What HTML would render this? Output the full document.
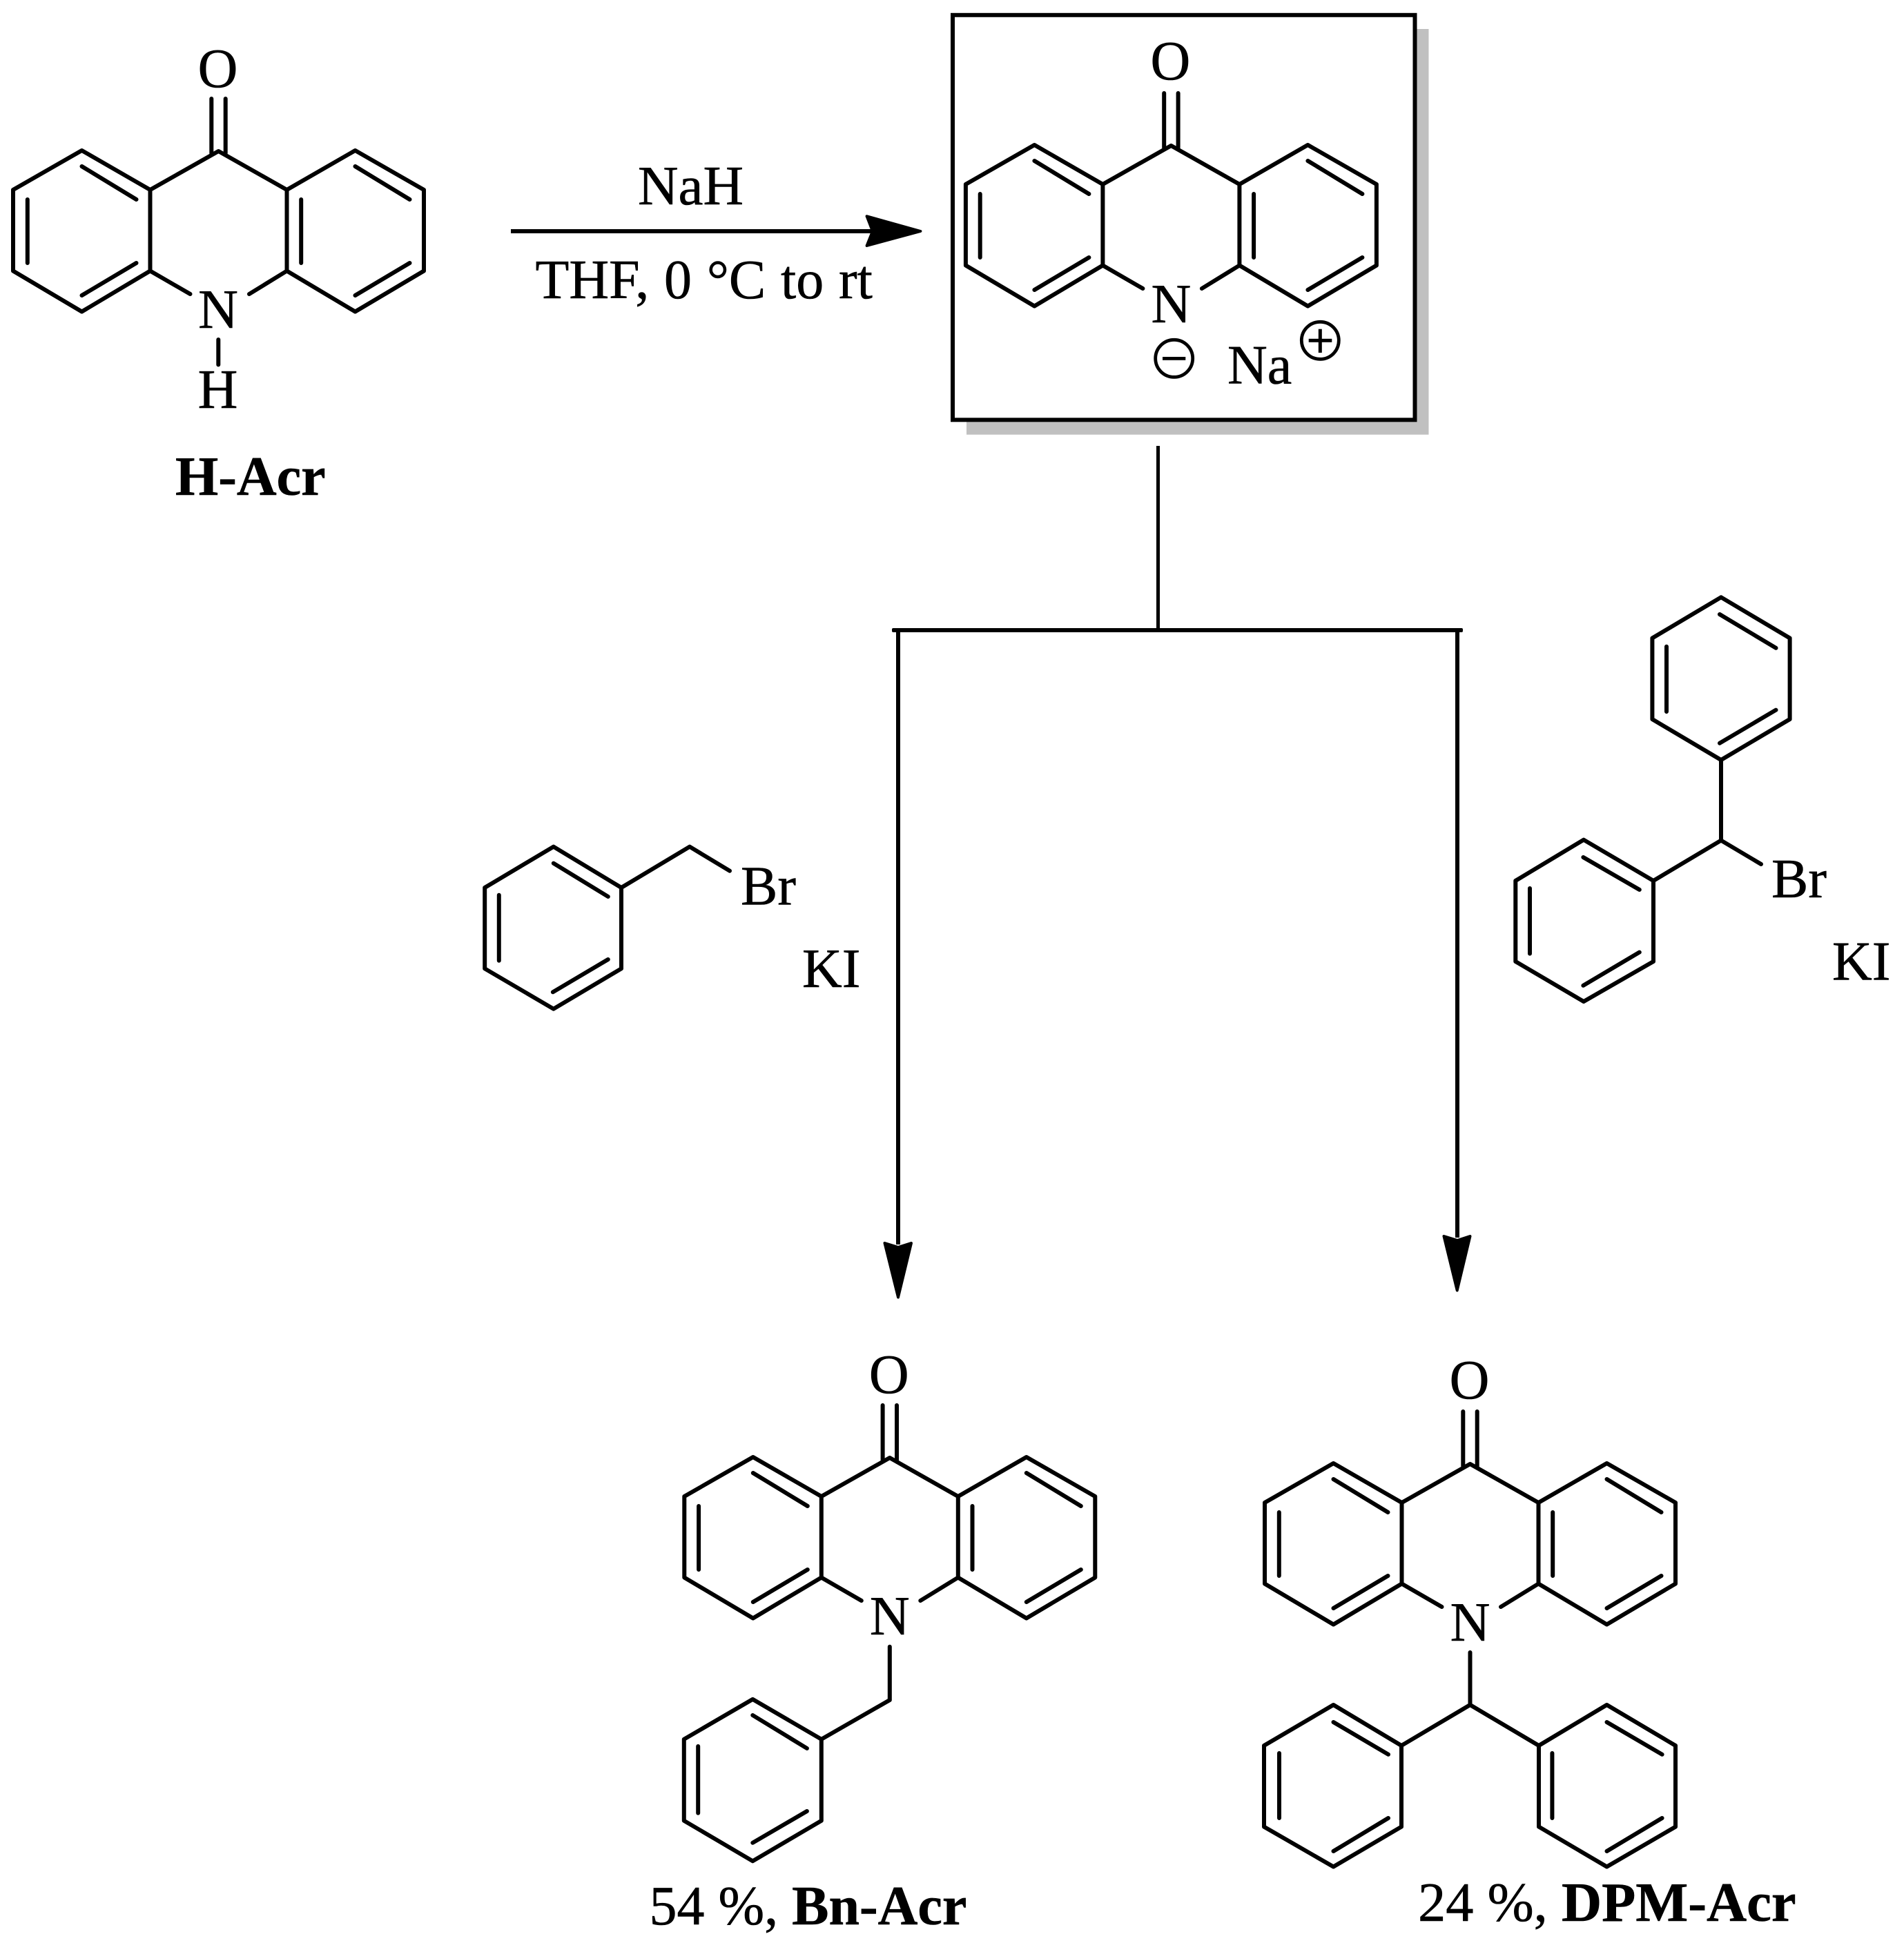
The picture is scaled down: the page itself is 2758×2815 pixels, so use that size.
<!DOCTYPE html>
<html>
<head>
<meta charset="utf-8">
<style>
html,body{margin:0;padding:0;background:#fff;}
svg{display:block;}
text{font-family:"Liberation Serif",serif;font-size:80px;fill:#000;stroke:#000;stroke-width:0.6px;}
.b{font-weight:bold;}
.m{text-anchor:middle;}
.bond{fill:none;stroke:#000;stroke-width:6;stroke-linecap:round;stroke-linejoin:round;}
</style>
</head>
<body>
<svg xmlns="http://www.w3.org/2000/svg" width="2758" height="2815" viewBox="0 0 2758 2815">
<rect width="2758" height="2815" fill="#fff"/>
<defs>
<g id="acr" class="bond">
<path d="M-41,207 L-99,173.5 L-99,56 L-198,-1 L-297.5,56 L-297.5,173.5 L-198,232.5 L-99,173.5 M-99,56 L0,0 L99,56 L198,-1 L297.5,56 L297.5,173.5 L198,232.5 L99,173.5 L99,56 M99,173.5 L44.5,207"/>
<path d="M-198,22 L-119,70 M-276.7,70 L-276.7,162 M-198,209 L-119,162 M198,22 L277,70 M119.7,70 L119.7,162 M198,209 L277,162"/>
<path d="M-10.2,-76 L-10.2,3 M10.2,-76 L10.2,3"/>
</g>
</defs>

<!-- H-Acr -->
<use href="#acr" transform="translate(316.5,219)"/>
<text class="m" x="315.5" y="126">O</text>
<text class="m" x="316" y="475">N</text>
<path class="bond" d="M316.3,492 L316.3,528.4"/>
<text class="m" x="315.5" y="591">H</text>
<text class="b" x="254" y="717">H-Acr</text>

<!-- top arrow -->
<text x="924" y="296" style="font-size:81px">NaH</text>
<text x="775.5" y="432" style="word-spacing:1.8px">THF, 0 °C to rt</text>
<rect x="740" y="332" width="530" height="6" fill="#000"/>
<path d="M1255.6,313.3 L1333.4,335 L1255.6,356 L1264,335 Z" fill="#000" stroke="#000" stroke-width="4" stroke-linejoin="round"/>

<!-- box -->
<rect x="1400" y="42" width="669.5" height="587.7" fill="#c0c0c0"/>
<rect x="1380" y="21.8" width="669.5" height="586.5" fill="#fff" stroke="#000" stroke-width="6"/>
<use href="#acr" transform="translate(1696.4,211)"/>
<text class="m" x="1695.4" y="115">O</text>
<text class="m" x="1696.4" y="467">N</text>
<text x="1778" y="555.5">Na</text>
<circle cx="1700.7" cy="519.3" r="27" fill="none" stroke="#000" stroke-width="4.8"/>
<rect x="1684" y="517" width="33.3" height="4.8" fill="#000"/>
<circle cx="1912.3" cy="493.3" r="27" fill="none" stroke="#000" stroke-width="4.8"/>
<rect x="1895.7" y="490.8" width="33.6" height="5" fill="#000"/>
<rect x="1909.8" y="476.7" width="5" height="34.3" fill="#000"/>

<!-- tree connectors -->
<rect x="1675" y="646" width="5" height="268" fill="#000"/>
<rect x="1292" y="910" width="827" height="6" rx="2" fill="#000"/>
<rect x="1298" y="913" width="6" height="890" fill="#000"/>
<rect x="2108" y="913" width="6" height="880" fill="#000"/>
<path d="M1281.5,1801 L1301,1807 L1320,1801 L1301,1879.5 Z" fill="#000" stroke="#000" stroke-width="4" stroke-linejoin="round"/>
<path d="M2091.5,1791 L2111,1797 L2129.5,1791 L2110.7,1869.5 Z" fill="#000" stroke="#000" stroke-width="4" stroke-linejoin="round"/>

<!-- benzyl bromide -->
<g class="bond">
<path d="M801.8,1226.7 L900,1286 L900,1403.3 L801.8,1461.7 L702.2,1403.3 L702.2,1286 Z"/>
<path d="M801.8,1250.7 L880.8,1299 M722.8,1296.7 L722.8,1391.7 M800.9,1437.3 L880.8,1390"/>
<path d="M900,1286 L999,1226.7 L1057,1261.7"/>
</g>
<text x="1073" y="1310.7">Br</text>
<text x="1162" y="1430">KI</text>

<!-- diphenylmethyl bromide -->
<g class="bond">
<path d="M2493,865.3 L2592.6,924.5 L2592.6,1042 L2493,1101 L2393.4,1042 L2393.4,924.5 Z"/>
<path d="M2491,890 L2572.5,938.8 M2414,936.7 L2414,1031 M2491,1076.7 L2572.5,1028.6"/>
<path d="M2493,1101 L2493,1217.6 L2395,1276 M2493,1217.6 L2551,1252"/>
<path d="M2294,1216.7 L2395,1276 L2395,1393 L2294,1451 L2195.3,1393 L2195.3,1276 Z"/>
<path d="M2293.4,1242 L2374.8,1289 M2216,1287 L2216,1381.6 M2293.4,1427.8 L2374.8,1379.6"/>
</g>
<text x="2566" y="1300">Br</text>
<text x="2654" y="1419.6">KI</text>

<!-- Bn-Acr -->
<use href="#acr" transform="translate(1288.8,2112)"/>
<text class="m" x="1287.8" y="2018">O</text>
<text class="m" x="1288.8" y="2368">N</text>
<g class="bond">
<path d="M1288.8,2385.7 L1288.8,2463 L1189.8,2519.8"/>
<path d="M1090.3,2461.9 L1189.8,2519.8 L1189.8,2637.8 L1090.3,2696.3 L990.8,2637.8 L990.8,2519.8 Z"/>
<path d="M1090.3,2485 L1168.9,2533 M1011.2,2530 L1011.2,2626.8 M1090.3,2669.8 L1168.9,2624"/>
</g>
<text x="940.5" y="2788">54 %, <tspan class="b">Bn-Acr</tspan></text>

<!-- DPM-Acr -->
<use href="#acr" transform="translate(2129.5,2121)"/>
<text class="m" x="2128.5" y="2026">O</text>
<text class="m" x="2129.5" y="2377">N</text>
<g class="bond">
<path d="M2129.5,2394 L2129.5,2470 L2030,2529 M2129.5,2470 L2229,2529"/>
<path d="M1931.5,2470 L2030,2529 L2030,2646.6 L1931.5,2704.5 L1831,2646.6 L1831,2529 Z"/>
<path d="M1931.5,2495 L2011,2541.8 M1853,2540 L1853,2634 M1931.5,2682 L2011,2634"/>
<path d="M2327.5,2470 L2427,2529 L2427,2646.6 L2327.5,2704.5 L2229,2646.6 L2229,2529 Z"/>
<path d="M2327.5,2495 L2407.6,2541.8 M2248.4,2540 L2248.4,2634 M2327.5,2682 L2407.6,2634"/>
</g>
<text x="2054" y="2783" style="font-size:80.5px">24 %, <tspan class="b">DPM-Acr</tspan></text>
</svg>
</body>
</html>
